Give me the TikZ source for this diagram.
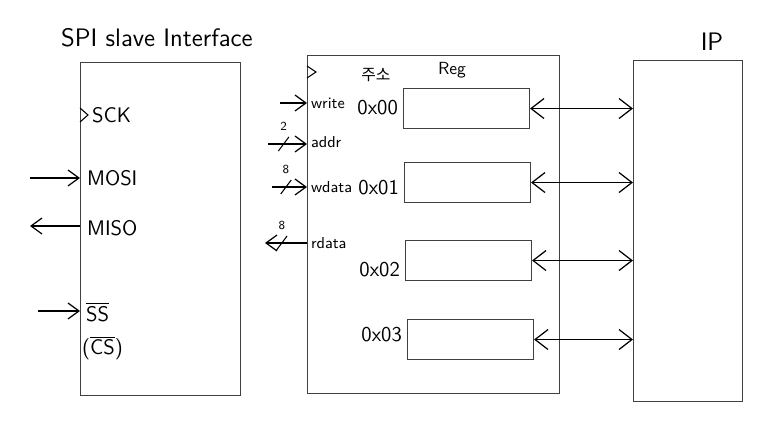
\documentclass[tikz,border=0pt]{standalone}
\usepackage{fontspec}
\newfontfamily\krfont{Noto Sans CJK KR}
\usetikzlibrary{arrows.meta, positioning}

\begin{document}
\begin{tikzpicture}[x=0.02cm, y=-0.02cm,
  blk/.style={draw=black!75, line width=0.6pt, anchor=north west, inner sep=0pt},
  regbox/.style={draw=black!75, line width=0.6pt, anchor=north west, inner sep=0pt,
    minimum width=2.52cm, minimum height=0.8cm},
  sig/.style={font=\sffamily\large, anchor=west, inner sep=1pt},
  port/.style={font=\sffamily\small, anchor=west, inner sep=1pt},
  addrlbl/.style={font=\sffamily\large, anchor=east, inner sep=1pt},
  wire/.style={-{Straight Barb[length=2.2mm, width=3.2mm]}, line width=0.7pt},
  dwire/.style={{Straight Barb[length=2.6mm, width=4mm]}-{Straight Barb[length=2.6mm, width=4mm]}, line width=0.7pt},
  pics/bus/.style={code={
    \draw[line width=0.6pt] (-3pt,-4pt) -- (3pt,4pt);
    \node[font=\scriptsize\sffamily] at (0pt,10pt) {#1};}}]
\useasboundingbox (0,0) rectangle (769,429);

% blocks
\node[font=\sffamily\Large, anchor=west] (title) at (55,38) {SPI slave Interface};
\node[blk, minimum width=3.2cm, minimum height=6.66cm] (spi) at (80,62) {};
\node[blk, minimum width=5.04cm, minimum height=6.76cm] (regfile) at (307,55) {};
\node[blk, minimum width=2.18cm, minimum height=6.82cm] (ip) at (633,60) {};
\node[font=\sffamily\Large] (iplbl) at (712,42) {IP};

% registers
\node[regbox] (r0) at (403,88) {};
\node[regbox] (r1) at (404,162) {};
\node[regbox] (r2) at (405,240) {};
\node[regbox] (r3) at (407,319) {};
\node[font=\sffamily] (reglbl) at (452,70) {Reg};
\node[font=\krfont\small] (addrhdr) at (376,75) {주소};
\node[addrlbl] (a0) at (400,108) {0x00};
\node[addrlbl] (a1) at (401,188) {0x01};
\node[addrlbl] (a2) at (402,270) {0x02};
\node[addrlbl] (a3) at (404,335) {0x03};

% SPI side signals
\draw[line width=0.6pt] (80,108) -- (88,115) -- (80,122);
\node[sig] (sck) at (90,115) {SCK};
\node[sig] (mosi) at (85,178) {MOSI};
\node[sig] (miso) at (85,228) {MISO};
\node[sig] (ss) at (84,312) {$\overline{\textsf{SS}}$};
\node[sig] (cs) at (80,348) {($\overline{\textsf{CS}}$)};
\coordinate (mosi in) at (30,178);
\coordinate (miso out) at (30,226);
\coordinate (ss in) at (38,311);
\draw[wire] (mosi in) -- (mosi in -| spi.west);
\draw[wire] (miso out -| spi.west) -- (miso out);
\draw[wire] (ss in) -- (ss in -| spi.west);

% register file ports
\draw[line width=0.6pt] (307,66) -- (316,72) -- (307,78);
\node[port] (wr) at (309,103) {write};
\node[port] (addr) at (309,142) {addr};
\node[port] (wdata) at (309,187) {wdata};
\node[port] (rdata) at (309,243) {rdata};
\coordinate (wr in) at (280,103);
\coordinate (addr in) at (268,144);
\coordinate (wdata in) at (272,187);
\coordinate (rdata out) at (265,243);
\draw[wire] (wr in) -- (wr in -| regfile.west);
\draw[wire] (addr in) -- coordinate[pos=0.4] (addr bw) (addr in -| regfile.west);
\draw[wire] (wdata in) -- coordinate[pos=0.4] (wdata bw) (wdata in -| regfile.west);
\draw[wire] (rdata out -| regfile.west) -- coordinate[pos=0.6] (rdata bw) (rdata out);
\pic at (addr bw) {bus=2};
\pic at (wdata bw) {bus=8};
\pic at (rdata bw) {bus=8};

% registers to IP
\foreach \r in {r0,r1,r2,r3}
  \draw[dwire] (\r.east) -- (\r.east -| ip.west);
\end{tikzpicture}
\end{document}
